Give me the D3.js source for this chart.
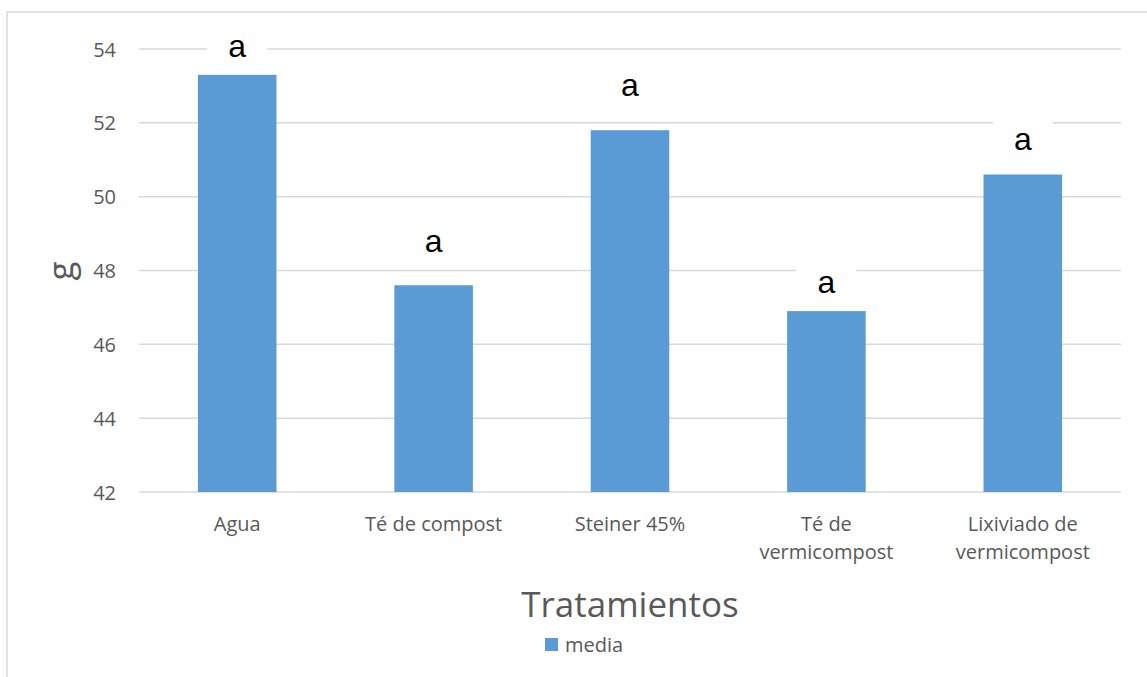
<!DOCTYPE html>
<html>
<head>
<meta charset="utf-8">
<script src="https://cdn.jsdelivr.net/npm/d3@7"></script>
<style>
  html, body { margin: 0; padding: 0; background: #ffffff; }
  svg { display: block; }
</style>
</head>
<body>
<svg id="chart" width="1147" height="677"></svg>
<script>
// ---- data ----
const categories = [["Agua"], ["Té de compost"], ["Steiner 45%"], ["Té de", "vermicompost"], ["Lixiviado de", "vermicompost"]];
const media = [53.3, 47.6, 51.8, 46.9, 50.6];
const letters = ["a", "a", "a", "a", "a"];
const letterValues = [54.03, 48.75, 52.97, 47.63, 51.51];
const yTicks = [42, 44, 46, 48, 50, 52, 54];
const seriesName = "media";
const xTitle = "Tratamientos";
const yTitle = "g";

// ---- layout ----
const svg = d3.select("#chart");
const plotLeft = 139, plotRight = 1121, plotTop = 49, plotBottom = 492;
const textColor = "#595959";
const gridColor = "#d9d9d9";
const barColor = "#5b9bd5";
const sans = "'Open Sans', 'Noto Sans', sans-serif";

// outer border (only top/left visible)
svg.append("rect")
  .attr("x", 7).attr("y", 12)
  .attr("width", 3000).attr("height", 3000)
  .attr("fill", "none").attr("stroke", gridColor).attr("stroke-width", 1.5);

const x = d3.scaleBand()
  .domain(d3.range(categories.length))
  .range([plotLeft, plotRight])
  .paddingInner(0.6)
  .paddingOuter(0.3);

const y = d3.scaleLinear().domain([42, 54]).range([plotBottom, plotTop]);

// gridlines
svg.append("g")
  .selectAll("line")
  .data(yTicks)
  .join("line")
  .attr("x1", plotLeft).attr("x2", plotRight)
  .attr("y1", d => y(d)).attr("y2", d => y(d))
  .attr("stroke", gridColor).attr("stroke-width", 1.5);

// y axis tick labels
const yAxis = d3.axisLeft(y).tickValues(yTicks).tickSize(0).tickPadding(0);
const gy = svg.append("g").attr("transform", `translate(116,0)`).call(yAxis);
gy.select(".domain").remove();
gy.selectAll("text")
  .attr("fill", textColor)
  .attr("font-family", sans)
  .attr("font-size", 20)
  .attr("dy", "0.35em");

// bars
svg.append("g")
  .selectAll("rect")
  .data(media)
  .join("rect")
  .attr("x", (d, i) => x(i))
  .attr("width", x.bandwidth())
  .attr("y", d => y(d))
  .attr("height", d => y(42) - y(d))
  .attr("fill", barColor);

// letter labels with white boxes
const lab = svg.append("g")
  .selectAll("g")
  .data(letters)
  .join("g")
  .attr("transform", (d, i) => `translate(${x(i) + x.bandwidth() / 2},${y(letterValues[i])})`);
lab.append("rect")
  .attr("x", -30).attr("y", -24)
  .attr("width", 60).attr("height", 46)
  .attr("fill", "#ffffff");
lab.append("text")
  .attr("text-anchor", "middle")
  .attr("y", 9)
  .attr("font-family", "'Liberation Sans', Arial, sans-serif")
  .attr("font-size", 32)
  .attr("fill", "#000000")
  .text(d => d);

// x category labels
const xAxis = d3.axisBottom(x).tickSize(0).tickFormat(() => "");
const gx = svg.append("g").attr("transform", `translate(0,${plotBottom})`).call(xAxis);
gx.select(".domain").remove();
gx.selectAll(".tick").each(function (d) {
  const t = d3.select(this).append("text")
    .attr("text-anchor", "middle")
    .attr("font-family", sans)
    .attr("font-size", 20)
    .attr("fill", textColor);
  categories[d].forEach((line, k) => {
    t.append("tspan").attr("x", 0).attr("y", 39 + k * 28).text(line);
  });
});

// axis titles
svg.append("text")
  .attr("x", (plotLeft + plotRight) / 2).attr("y", 617)
  .attr("text-anchor", "middle")
  .attr("font-family", sans)
  .attr("font-size", 35)
  .attr("fill", textColor)
  .text(xTitle);

svg.append("text")
  .attr("transform", "translate(73,271) rotate(-90)")
  .attr("text-anchor", "middle")
  .attr("font-family", sans)
  .attr("font-size", 35)
  .attr("fill", textColor)
  .text(yTitle);

// legend
const lg = svg.append("g").attr("transform", "translate(545,638)");
lg.append("rect").attr("width", 13).attr("height", 13).attr("fill", barColor);
lg.append("text")
  .attr("x", 20).attr("y", 14)
  .attr("font-family", sans)
  .attr("font-size", 20)
  .attr("fill", textColor)
  .text(seriesName);
</script>
</body>
</html>
